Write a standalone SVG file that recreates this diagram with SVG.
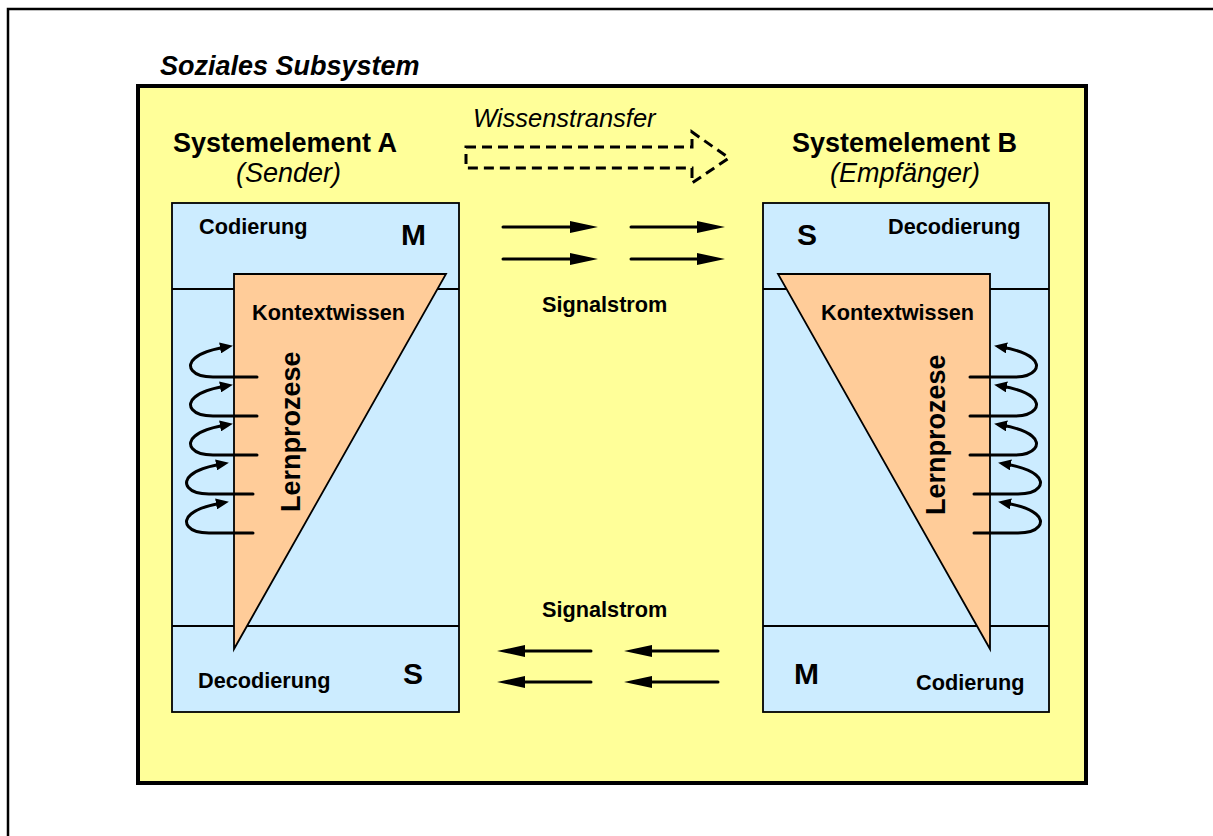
<svg xmlns="http://www.w3.org/2000/svg" xmlns:xlink="http://www.w3.org/1999/xlink" width="1213" height="836" viewBox="0 0 1213 836">
  <style>
    text { font-family: "Liberation Sans", Arial, sans-serif; fill: #000; }
    .head { font-size: 27px; font-weight: bold; }
    .role { font-size: 27px; font-style: italic; }
    .lbl { font-size: 21.7px; font-weight: bold; }
    .big { font-size: 30px; font-weight: bold; }
    .box { fill: #CCECFF; stroke: #000; stroke-width: 1.8; }
    .div { stroke: #000; stroke-width: 1.8; }
    .tri { fill: #FFCC99; stroke: #000; stroke-width: 1.8; stroke-linejoin: miter; }
    .loop { fill: none; stroke: #000; stroke-width: 3; stroke-linecap: round; marker-end: url(#loopHead); }
    .sig { stroke: #000; stroke-width: 3; stroke-linecap: round; marker-end: url(#sigHead); }
  </style>
  <defs>
    <marker id="loopHead" viewBox="0 0 13 11" refX="6" refY="5.5" markerWidth="13" markerHeight="11" markerUnits="userSpaceOnUse" orient="auto">
      <path d="M0,0 L13,5.5 L0,11 Z" fill="#000"/>
    </marker>
    <marker id="sigHead" viewBox="0 0 28 12" refX="10" refY="6" markerWidth="28" markerHeight="12" markerUnits="userSpaceOnUse" orient="auto">
      <path d="M0,0 L28,6 L0,12 Z" fill="#000"/>
    </marker>
    <!-- one learning loop, drawn from its straight end -->
    <path id="loopShape" d="M0,0 L-44,0 C-65,0 -72,-11 -62,-19 C-55,-25 -43,-28 -31,-30"/>
  </defs>

  <!-- page frame (runs past the right and bottom edges) -->
  <rect x="8" y="9" width="1300" height="900" fill="#FFFFFF" stroke="#000" stroke-width="2.5"/>

  <!-- social subsystem -->
  <g id="subsystem">
    <text x="160" y="75" style="font-size:27px;font-weight:bold;font-style:italic">Soziales Subsystem</text>
    <rect x="138" y="86" width="948" height="697" fill="#FFFF99" stroke="#000" stroke-width="4"/>
  </g>

  <!-- element A: sender -->
  <g id="elementA">
    <text class="head" x="173" y="152">Systemelement A</text>
    <text class="role" x="236" y="182">(Sender)</text>
    <rect class="box" x="172" y="203" width="287" height="509"/>
    <line class="div" x1="172" y1="289" x2="459" y2="289"/>
    <line class="div" x1="172" y1="626" x2="459" y2="626"/>
    <polygon class="tri" points="234,274 446,274 234,649"/>
    <text class="lbl" x="199" y="234">Codierung</text>
    <text class="big" x="401" y="245">M</text>
    <text class="lbl" x="252" y="320">Kontextwissen</text>
    <text class="head" transform="translate(300,512) rotate(-90)">Lernprozese</text>
    <text class="lbl" x="198" y="688">Decodierung</text>
    <text class="big" x="403" y="684">S</text>
    <g id="loopsA">
      <use xlink:href="#loopShape" class="loop" transform="translate(257,377)"/>
      <use xlink:href="#loopShape" class="loop" transform="translate(257,416)"/>
      <use xlink:href="#loopShape" class="loop" transform="translate(257,455)"/>
      <use xlink:href="#loopShape" class="loop" transform="translate(253,494)"/>
      <use xlink:href="#loopShape" class="loop" transform="translate(253,533)"/>
    </g>
  </g>

  <!-- element B: receiver -->
  <g id="elementB">
    <text class="head" x="792" y="152">Systemelement B</text>
    <text class="role" x="830" y="182">(Empfänger)</text>
    <rect class="box" x="763" y="203" width="286" height="509"/>
    <line class="div" x1="763" y1="289" x2="1049" y2="289"/>
    <line class="div" x1="763" y1="626" x2="1049" y2="626"/>
    <polygon class="tri" points="778,274 990,274 990,649"/>
    <text class="big" x="797" y="245">S</text>
    <text class="lbl" x="888" y="234">Decodierung</text>
    <text class="lbl" x="821" y="320">Kontextwissen</text>
    <text class="head" transform="translate(945,515) rotate(-90)">Lernprozese</text>
    <text class="big" x="794" y="684">M</text>
    <text class="lbl" x="916" y="690">Codierung</text>
    <g id="loopsB">
      <use xlink:href="#loopShape" class="loop" transform="translate(970,377) scale(-1,1)"/>
      <use xlink:href="#loopShape" class="loop" transform="translate(970,416) scale(-1,1)"/>
      <use xlink:href="#loopShape" class="loop" transform="translate(970,455) scale(-1,1)"/>
      <use xlink:href="#loopShape" class="loop" transform="translate(974,494) scale(-1,1)"/>
      <use xlink:href="#loopShape" class="loop" transform="translate(974,533) scale(-1,1)"/>
    </g>
  </g>

  <!-- knowledge transfer -->
  <g id="transfer">
    <text x="473" y="127" style="font-size:25.5px;font-style:italic">Wissenstransfer</text>
    <polygon points="466,147 692,147 692,132 729,158 692,183 692,168 466,168" fill="none" stroke="#000" stroke-width="3" stroke-dasharray="10,6"/>
  </g>

  <!-- signal flows -->
  <g id="connectors">
    <line class="sig" x1="503" y1="227" x2="580" y2="227"/>
    <line class="sig" x1="503" y1="259" x2="580" y2="259"/>
    <line class="sig" x1="631" y1="227" x2="707" y2="227"/>
    <line class="sig" x1="631" y1="259" x2="707" y2="259"/>
    <line class="sig" x1="591" y1="651" x2="515" y2="651"/>
    <line class="sig" x1="591" y1="682" x2="515" y2="682"/>
    <line class="sig" x1="718" y1="651" x2="642" y2="651"/>
    <line class="sig" x1="718" y1="682" x2="642" y2="682"/>
  </g>
  <g id="signalLabels">
    <text class="lbl" x="542" y="312">Signalstrom</text>
    <text class="lbl" x="542" y="617">Signalstrom</text>
  </g>
</svg>
